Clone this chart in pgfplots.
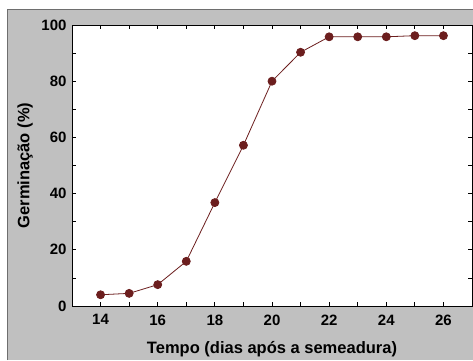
\documentclass[border=0pt]{standalone}
\usepackage{pgfplots}
\pgfplotsset{compat=1.18}
\usepackage{fontspec}
\setmainfont{Liberation Sans}
\definecolor{bggray}{RGB}{192,192,192}
\definecolor{frame}{RGB}{110,110,110}
\definecolor{dred}{RGB}{108,30,30}
\pgfplotstableread{
x y
14 4.0
15 4.5
16 7.6
17 15.9
18 36.8
19 57.2
20 80.0
21 90.3
22 95.8
23 95.8
24 95.8
25 96.2
26 96.2
}\germ
\begin{document}
\begin{tikzpicture}[x=1pt,y=1pt]
\useasboundingbox (0,0) rectangle (473,360);
\fill[bggray] (7,0) rectangle (473,351);
\draw[frame, line width=1pt] (7,0) -- (7,351) -- (473,351);
\begin{axis}[
  at={(72pt,54pt)}, anchor=south west,
  width=400pt, height=281pt, scale only axis,
  xmin=13, xmax=27, ymin=0, ymax=100,
  xtick={14,16,...,26}, minor xtick={15,17,...,25},
  ytick={0,20,...,100}, minor ytick={10,30,...,90},
  tick align=inside,
  major tick length=4pt, minor tick length=4pt,
  every tick/.style={black, line width=0.8pt},
  axis line style={black, line width=0.9pt},
  axis background/.style={fill=white},
  /pgf/number format/assume math mode=true,
  ticklabel style={font=\fontsize{15}{17}\selectfont\bfseries},
  xticklabel style={yshift=-5pt},
  yticklabel style={xshift=-2pt},
  clip=false,
]
\addplot[dred, line width=0.8pt, mark=*, mark size=4pt, mark options={fill=dred, draw=dred}] table[x=x,y=y] {\germ};
\end{axis}
\node[font=\fontsize{16.5}{18}\selectfont\bfseries] at (272,11) {Tempo (dias após a semeadura)};
\node[font=\fontsize{16.5}{18}\selectfont\bfseries, rotate=90] at (25,194.5) {Germinação (\%)};
\end{tikzpicture}
\end{document}
